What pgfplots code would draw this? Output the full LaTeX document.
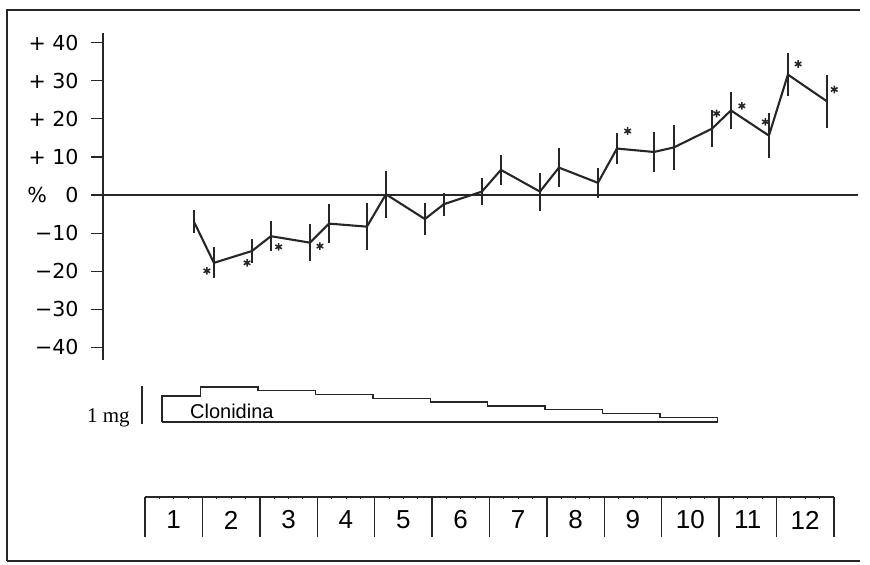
\documentclass[border=0pt]{standalone}
\usepackage{fontspec}
\setmainfont{Liberation Sans}
\newfontfamily\dejavu{DejaVu Sans}
\newfontfamily\tnr{Liberation Serif}
\usepackage{pgfplots}
\pgfplotsset{compat=1.18}
\definecolor{ink}{gray}{0.15}

\begin{document}
\begin{tikzpicture}
\useasboundingbox (0,0) rectangle (435pt,282pt);
\draw[ink, line width=0.8pt] (430pt,277pt) -- (3.5pt,277pt) -- (3.5pt,1.5pt);
\draw[ink, line width=0.8pt] (3.5pt,1.5pt) -- (430pt,1.5pt);

% percent change, with error bars
\begin{axis}[
  at={(51.5pt,102pt)}, anchor=south west,
  x=28.7pt, y=1.905pt,
  xmin=-0.73, xmax=12.42, ymin=-43.3, ymax=42.5,
  axis y line=left, axis x line=middle,
  axis line style={-, ink, line width=0.6pt},
  xtick=\empty,
  ytick={-40,-30,-20,-10,0,10,20,30,40},
  yticklabels={−40,−30,−20,−10,\%\hspace{0.9em}0,+ 10,+ 20,+ 30,+ 40},
  tick align=outside, major tick length=6pt,
  tick style={ink, line width=0.6pt},
  yticklabel style={font=\dejavu\fontsize{10.3}{12}\selectfont, anchor=east, inner sep=0pt, xshift=-6pt},
  clip=false,
]
\addplot[ink, line width=1.05pt, line join=round, mark=none,
  error bars/.cd, y dir=both, y explicit, error mark=none,
  error bar style={line width=0.65pt}]
coordinates {
  (0.854,-7.0)  +- (0,3.0)
  (1.202,-17.8) +- (0,4.1)
  (1.864,-14.7) +- (0,3.2)
  (2.195,-10.8) +- (0,3.9)
  (2.875,-12.5) +- (0,4.8)
  (3.206,-7.5)  +- (0,5.1)
  (3.868,-8.3)  +- (0,6.2)
  (4.199,0.2)   +- (0,6.1)
  (4.878,-6.3)  +- (0,4.1)
  (5.209,-2.4)  +- (0,3.0)
  (5.871,0.9)   +- (0,3.5)
  (6.202,6.6)   +- (0,4.0)
  (6.882,0.9)   +- (0,5.0)
  (7.213,7.2)   +- (0,5.1)
  (7.892,3.2)   +- (0,4.0)
  (8.223,12.2)  +- (0,4.1)
  (8.868,11.3)  +- (0,5.3)
  (9.216,12.5)  +- (0,5.9)
  (9.878,17.4)  +- (0,4.9)
  (10.209,22.2) +- (0,4.8)
  (10.871,15.6) +- (0,5.8)
  (11.202,31.6) +- (0,5.7)
  (11.882,24.6) +- (0,6.9)
};
\addplot[only marks, mark=asterisk, mark size=1.9pt, mark options={ink, line width=0.75pt}]
coordinates {
  (1.08,-19.9) (1.78,-17.8) (2.33,-13.6) (3.05,-13.4) (8.41,16.8)
  (9.96,21.4) (10.40,23.4) (10.81,19.2) (11.38,34.4) (12.01,27.7)
};
\end{axis}

% clonidine dose, mg
\begin{axis}[
  at={(72.5pt,71pt)}, anchor=south west,
  x=28.7pt, y=18pt,
  xmin=0, xmax=10.5, ymin=0, ymax=1.1,
  hide axis, clip=false,
]
\addplot[ink, line width=0.75pt, line join=miter] coordinates {
  (0.3,0) (0.3,0.72) (0.97,0.72) (0.97,0.97) (1.97,0.97) (1.97,0.88)
  (2.97,0.88) (2.97,0.77) (3.97,0.77) (3.97,0.66) (4.97,0.66) (4.97,0.56)
  (5.97,0.56) (5.97,0.45) (6.97,0.45) (6.97,0.35) (7.97,0.35) (7.97,0.24)
  (8.97,0.24) (8.97,0.13) (9.97,0.13) (9.97,0) (0.3,0)
};
\addplot[ink, line width=0.8pt] coordinates {(-0.05,-0.05) (-0.05,1.0)};
\node[anchor=base east, inner sep=0pt, font=\tnr\fontsize{10.5}{12}\selectfont] at (axis cs:-0.26,0) {1 mg};
\node[anchor=base west, inner sep=0pt, font=\fontsize{10}{12}\selectfont] at (axis cs:0.78,0.11) {Clonidina};
\end{axis}

% weeks
\begin{axis}[
  at={(72.5pt,13.5pt)}, anchor=south west,
  x=28.7pt, y=20pt,
  xmin=0, xmax=12, ymin=0, ymax=1,
  axis x line=top, axis y line=none,
  axis line style={-, ink, line width=0.7pt},
  xtick={0.5,1.5,2.5,3.5,4.5,5.5,6.5,7.5,8.5,9.5,10.5,11.5},
  xticklabels={1,2,3,4,5,6,7,8,9,10,11,12},
  major tick length=0pt,
  minor xtick={0.25,0.5,...,11.75},
  minor tick length=1.2pt, tick align=inside,
  tick style={ink, line width=0.4pt},
  xticklabel style={font=\fontsize{13}{15}\selectfont, anchor=center, yshift=-11.5pt},
  clip=false,
]
\addplot[ycomb, ink, line width=0.7pt, mark=none] coordinates {
  (0,1) (1,1) (2,1) (3,1) (4,1) (5,1) (6,1) (7,1) (8,1) (9,1) (10,1) (11,1) (12,1)
};
\end{axis}
\end{tikzpicture}
\end{document}
